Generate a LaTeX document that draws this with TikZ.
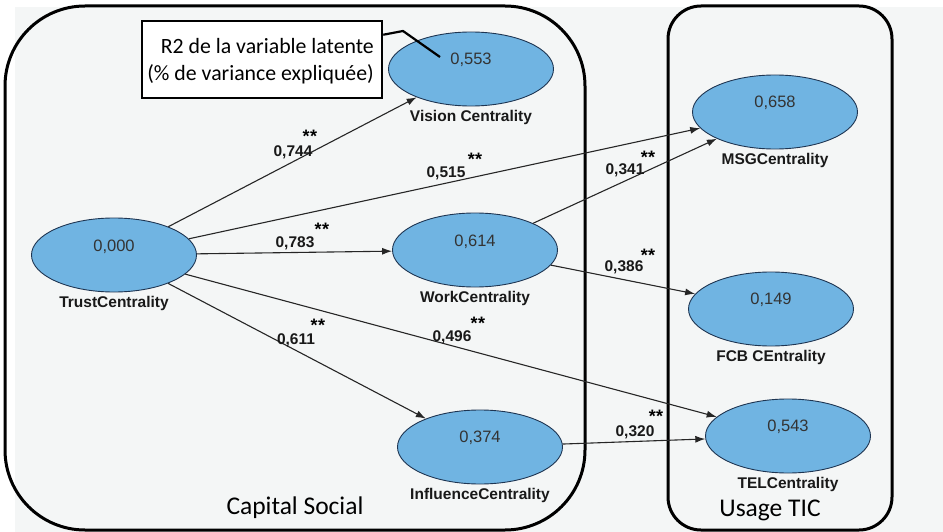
\documentclass[tikz,border=0pt]{standalone}
\usepackage{fontspec}
\setmainfont{Liberation Sans}
\newfontfamily\calib{Carlito}
\usetikzlibrary{shapes.geometric,arrows.meta}
\definecolor{bgc}{HTML}{F4F6F6}
\definecolor{ellfill}{HTML}{70B4E2}
\definecolor{ellline}{HTML}{1E3552}
\begin{document}
\begin{tikzpicture}[x=1pt,y=-1pt,
  ell/.style={ellipse, draw=ellline, line width=0.9pt, fill=ellfill, minimum width=165pt, minimum height=74pt, inner sep=0pt},
  val/.style={font=\fontsize{16.5}{16.5}\selectfont, text=black!80, inner sep=0pt},
  lab/.style={font=\bfseries\fontsize{15.5}{15.5}\selectfont, text=black!90, inner sep=0pt},
  coef/.style={font=\bfseries\fontsize{15.5}{15.5}\selectfont, text=black!90, inner sep=0pt},
  sig/.style={font=\bfseries\fontsize{18}{18}\selectfont, anchor=base, inner sep=0pt},
  link/.style={draw=black!85, line width=1.1pt, -{Latex[length=10pt,width=7pt]}},
  grp/.style={draw=black, line width=3pt},
  grpt/.style={font=\calib\fontsize{25.5}{25.5}\selectfont, inner sep=0pt},
]
\useasboundingbox (0,0) rectangle (943,532);
\fill[bgc] (15,7) rectangle (943,532);
\draw[grp, rounded corners=80pt] (5,6) rectangle (585,530);
\draw[grp, rounded corners=33pt] (668,6) rectangle (892,530);

% ellipses
\node[ell] (trust) at (114,255) {};
\node[ell] (vision) at (471,69) {};
\node[ell] (work) at (475,250) {};
\node[ell] (infl) at (480,447) {};
\node[ell] (msg) at (775,112) {};
\node[ell] (fcb) at (771,309) {};
\node[ell] (tel) at (788,436) {};

% values
\node[val] (trustv) at ([yshift=8pt]trust.center) {0,000};
\node[val] (visionv) at ([yshift=9pt]vision.center) {0,553};
\node[val] (workv) at ([yshift=8pt]work.center) {0,614};
\node[val] (inflv) at ([yshift=9pt]infl.center) {0,374};
\node[val] (msgv) at ([yshift=9pt]msg.center) {0,658};
\node[val] (fcbv) at ([yshift=9pt]fcb.center) {0,149};
\node[val] (telv) at ([yshift=9pt]tel.center) {0,543};

% labels
\node[lab] (trustl) at ([yshift=-48pt]trust.center) {TrustCentrality};
\node[lab] (visionl) at ([yshift=-48pt]vision.center) {Vision Centrality};
\node[lab] (workl) at ([yshift=-48pt]work.center) {WorkCentrality};
\node[lab] (infll) at ([yshift=-48pt]infl.center) {InfluenceCentrality};
\node[lab] (msgl) at ([yshift=-48pt]msg.center) {MSGCentrality};
\node[lab] (fcbl) at ([yshift=-48pt]fcb.center) {FCB CEntrality};
\node[lab] (tell) at ([yshift=-48pt]tel.center) {TELCentrality};

% connectors
\draw[link] (trust) -- (vision);
\draw[link] (trust) -- (msg);
\draw[link] (trust) -- (work);
\draw[link] (trust) -- (infl);
\draw[link] (trust) -- (tel);
\draw[link] (work) -- (msg);
\draw[link] (work) -- (fcb);
\draw[link] (infl) -- (tel);

% coefficients
\node[coef] (c1) at (293,152) {0,744};
\node[sig] (s1) at (310,143) {*\kern0.5pt*};
\node[coef] (c2) at (446,173) {0,515};
\node[sig] (s2) at (475,166) {*\kern0.5pt*};
\node[coef] (c3) at (295,243) {0,783};
\node[sig] (s3) at (322,235) {*\kern0.5pt*};
\node[coef] (c4) at (625,170) {0,341};
\node[sig] (s4) at (648,164) {*\kern0.5pt*};
\node[coef] (c5) at (624,267) {0,386};
\node[sig] (s5) at (648,261) {*\kern0.5pt*};
\node[coef] (c6) at (296,340) {0,611};
\node[sig] (s6) at (318,331) {*\kern0.5pt*};
\node[coef] (c7) at (452,337) {0,496};
\node[sig] (s7) at (478,329) {*\kern0.5pt*};
\node[coef] (c8) at (635,432) {0,320};
\node[sig] (s8) at (656,422) {*\kern0.5pt*};

% callout
\node[draw=black, line width=2.5pt, fill=white, minimum width=240pt, minimum height=77pt, inner sep=0pt] (callout) at (262,59.5) {};
\node[font=\calib\fontsize{21.8}{27}\selectfont, align=right, anchor=east, inner sep=0pt] (callt) at (374,61.5) {R2 de la variable latente\\(\% de variance expliquée)};
\coordinate (cbend) at (403,31);
\coordinate (ctip) at (440,57);
\draw[line width=2.2pt] ([yshift=-15pt]callout.north east) -- (cbend) -- (ctip);

% group titles
\node[grpt] (capt) at (295,508) {Capital Social};
\node[grpt] (uset) at (770,510) {Usage TIC};
\end{tikzpicture}
\end{document}
